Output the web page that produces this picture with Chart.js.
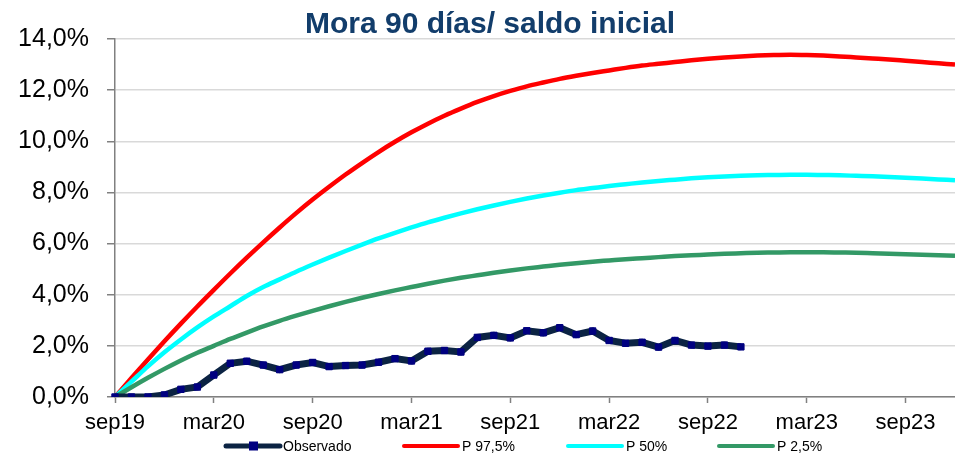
<!DOCTYPE html>
<html>
<head>
<meta charset="utf-8">
<script src="https://cdn.jsdelivr.net/npm/chart.js@4/dist/chart.umd.min.js"></script>
<style>
  html, body { margin: 0; padding: 0; background: #fff; overflow: hidden; }
  #wrap { width: 955px; height: 453px; position: relative; }
</style>
</head>
<body>
<div id="wrap"><canvas id="chart"></canvas></div>
<script>
// Months sep19 .. dic23
const months = [
  'sep19','oct19','nov19','dic19','ene20','feb20','mar20','abr20','may20','jun20','jul20','ago20',
  'sep20','oct20','nov20','dic20','ene21','feb21','mar21','abr21','may21','jun21','jul21','ago21',
  'sep21','oct21','nov21','dic21','ene22','feb22','mar22','abr22','may22','jun22','jul22','ago22',
  'sep22','oct22','nov22','dic22','ene23','feb23','mar23','abr23','may23','jun23','jul23','ago23',
  'sep23','oct23','nov23','dic23'
];

// Observed default rate (%), sep19 .. nov22
const observado = [
  0.00, 0.00, 0.00, 0.08, 0.30, 0.39, 0.86, 1.32, 1.40, 1.25, 1.07, 1.25,
  1.35, 1.19, 1.23, 1.25, 1.36, 1.50, 1.41, 1.79, 1.82, 1.76, 2.33, 2.41,
  2.31, 2.59, 2.51, 2.71, 2.44, 2.58, 2.21, 2.10, 2.14, 1.95, 2.21, 2.03,
  1.99, 2.03, 1.96
];

// Projected percentiles (%)
const p975 = [
  0, 0.74, 1.47, 2.18, 2.87, 3.54, 4.19, 4.83, 5.45, 6.05, 6.63, 7.19,
  7.72, 8.22, 8.70, 9.15, 9.58, 9.98, 10.35, 10.69, 11.00, 11.28, 11.54, 11.77,
  11.97, 12.15, 12.30, 12.44, 12.56, 12.67, 12.77, 12.87, 12.96, 13.03, 13.10, 13.17,
  13.23, 13.28, 13.32, 13.35, 13.37, 13.38, 13.37, 13.35, 13.32, 13.28, 13.24, 13.20,
  13.15, 13.10, 13.05, 13.00
];
const p50 = [
  0, 0.60, 1.20, 1.75, 2.25, 2.72, 3.15, 3.55, 3.95, 4.30, 4.60, 4.90,
  5.18, 5.45, 5.71, 5.96, 6.20, 6.42, 6.63, 6.83, 7.01, 7.18, 7.34, 7.49,
  7.63, 7.76, 7.88, 7.99, 8.09, 8.17, 8.25, 8.32, 8.39, 8.45, 8.50, 8.55,
  8.59, 8.62, 8.65, 8.67, 8.68, 8.69, 8.69, 8.68, 8.67, 8.65, 8.63, 8.60,
  8.57, 8.54, 8.51, 8.48
];
const p025 = [
  0, 0.38, 0.75, 1.10, 1.43, 1.73, 2.00, 2.27, 2.52, 2.76, 2.98, 3.18,
  3.37, 3.55, 3.72, 3.88, 4.03, 4.17, 4.30, 4.43, 4.55, 4.66, 4.76, 4.86,
  4.95, 5.03, 5.10, 5.17, 5.23, 5.29, 5.34, 5.39, 5.43, 5.47, 5.51, 5.54,
  5.57, 5.60, 5.62, 5.64, 5.65, 5.66, 5.66, 5.66, 5.65, 5.64, 5.62, 5.60,
  5.58, 5.56, 5.54, 5.52
];

const seriesNames = ['Observado', 'P 97,5%', 'P 50%', 'P 2,5%'];
const chartTitle = 'Mora 90 días/ saldo inicial';

// legend drawn at the bottom, laid out like the original
const legendLayout = [
  { x: 226, text: 283 },
  { x: 404, text: 462 },
  { x: 568, text: 626 },
  { x: 719, text: 777 }
];

const titleAndLegend = {
  id: 'titleAndLegend',
  afterDraw(chart) {
    const ctx = chart.ctx;
    ctx.save();
    // title
    ctx.fillStyle = '#123d6b';
    ctx.font = 'bold 30px "Liberation Sans", Arial, sans-serif';
    ctx.textAlign = 'center';
    ctx.textBaseline = 'alphabetic';
    ctx.fillText(chartTitle, 490, 33);

    // legend
    const y = 446;
    chart.data.datasets.forEach((ds, i) => {
      const pos = legendLayout[i];
      ctx.strokeStyle = ds.borderColor;
      ctx.lineWidth = i === 0 ? 5 : 4;
      ctx.lineCap = 'round';
      ctx.beginPath();
      ctx.moveTo(pos.x, y);
      ctx.lineTo(pos.x + 54, y);
      ctx.stroke();
      if (i === 0) {
        ctx.fillStyle = ds.pointBackgroundColor;
        ctx.fillRect(pos.x + 23, y - 4.5, 9, 9);
      }
      ctx.fillStyle = '#000';
      ctx.font = '14px "Liberation Sans", Arial, sans-serif';
      ctx.textBaseline = 'middle';
      ctx.textAlign = 'left';
      ctx.fillText(ds.label, pos.text, y + 1);
    });
    ctx.restore();
  }
};

const ctx = document.getElementById('chart').getContext('2d');
new Chart(ctx, {
  type: 'line',
  data: {
    labels: months,
    datasets: [
      {
        label: seriesNames[0],
        data: observado,
        borderColor: '#0b2343',
        borderWidth: 7,
        pointStyle: 'rect',
        pointRadius: 4.5,
        pointBackgroundColor: '#000080',
        pointBorderColor: '#000080',
        pointBorderWidth: 1,
        tension: 0,
        order: 0
      },
      {
        label: seriesNames[1],
        data: p975,
        borderColor: '#ff0000',
        borderWidth: 4.5,
        pointRadius: 0,
        cubicInterpolationMode: 'monotone',
        order: 3
      },
      {
        label: seriesNames[2],
        data: p50,
        borderColor: '#00ffff',
        borderWidth: 4.5,
        pointRadius: 0,
        cubicInterpolationMode: 'monotone',
        order: 2
      },
      {
        label: seriesNames[3],
        data: p025,
        borderColor: '#339966',
        borderWidth: 4.5,
        pointRadius: 0,
        cubicInterpolationMode: 'monotone',
        order: 1
      }
    ]
  },
  options: {
    responsive: true,
    maintainAspectRatio: false,
    animation: false,
    layout: { autoPadding: false, padding: { left: 0, right: 0, top: 39, bottom: 0 } },
    plugins: {
      legend: { display: false },
      tooltip: { enabled: false },
      title: { display: false }
    },
    scales: {
      x: {
        afterFit(scale) {
          scale.height = 56;
          scale.paddingRight = 0;
        },
        grid: {
          drawOnChartArea: false,
          drawTicks: true,
          tickLength: 6,
          tickWidth: 1.5,
          tickColor: (c) => (c.index % 6 === 0 ? '#808080' : 'rgba(0,0,0,0)')
        },
        border: { color: '#808080', width: 1.5 },
        ticks: {
          autoSkip: false,
          maxRotation: 0,
          padding: 7,
          color: '#000',
          font: { family: '"Liberation Sans", Arial, sans-serif', size: 22 },
          callback: (v, i) => (i % 6 === 0 ? months[i] : '')
        }
      },
      y: {
        min: 0,
        max: 14,
        afterFit(scale) { scale.width = 115; },
        grid: {
          color: '#d9d9d9',
          lineWidth: 1.5,
          tickColor: '#808080',
          tickLength: 8
        },
        border: { color: '#808080', width: 1.5 },
        ticks: {
          stepSize: 2,
          padding: 18,
          color: '#000',
          font: { family: '"Liberation Sans", Arial, sans-serif', size: 25 },
          callback: (v) => v.toFixed(1).replace('.', ',') + '%'
        }
      }
    }
  },
  plugins: [titleAndLegend]
});
</script>
</body>
</html>
